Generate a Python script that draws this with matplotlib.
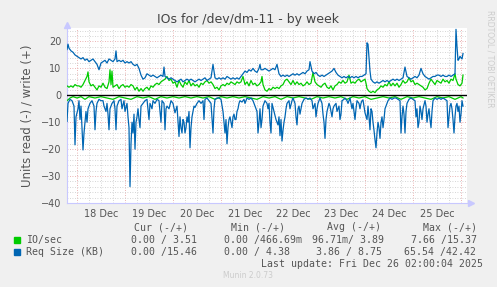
import matplotlib
matplotlib.use("Agg")
import matplotlib.pyplot as plt
import numpy as np

# time axis: 30-minute samples counted from Dec 17 19:00
day_labels = ["18 Dec", "19 Dec", "20 Dec", "21 Dec", "22 Dec", "23 Dec", "24 Dec", "25 Dec"]

# Req Size (KB) write (+)
req_w_t = [0,1,2,4,6,8,10,12,14,16,18,20,22,24,26,28,30,32,34,36,38,40,42,44,46,48,49,50,52,54,56,58,60,62,64,66,68,70,72,74,76,78,
           80,82,84,86,88,90,92,94,96,97,98,100,102,104,106,108,110,112,114,116,118,120,122,124,126,128,130,132,134,136,138,140,142,144,
           146,148,150,152,154,156,158,160,162,164,166,168,170,172,174,176,178,180,182,184,186,188,190,192,193,194,196,198,200,202,204,
           206,208,210,212,214,216,218,220,222,224,226,228,230,232,234,236,238,240,242,243,245,247,249,251,253,255,257,259,261,263,265,
           267,269,271,273,275,277,279,281,283,285,287,289,291,293,295,297,299,300,301,302,303,304,306,308,310,312,314,316,318,320,322,
           324,326,328,330,332,334,336,338,340,342,344,346,348,350,352,354,356,358,360,362,364,366,368,370,372,374,376,378,380,382,384,
           386,388,389,390,391,392,393,394,395,396]
req_w_v = [17,19,17.5,16.5,16,15,14.5,14,13.5,14,13,13.5,12.5,13,13.5,12.5,11.5,9.5,12,12.5,13,12,13.5,13,12.5,13.5,16.5,12.5,13,12.5,
           13,12,12.5,12,12.5,11.5,11,11.5,10,7.5,6,6.5,8,7.5,7,7.5,7,6.5,7,7.5,7,10.5,7,6.5,6,6.5,6,5.5,5,5.5,6,5,5.5,6,5.5,6,5.5,5,
           5.5,6,5.5,6,6.5,5.5,6,6.5,11.5,6.5,6,6.5,6,6.5,6,7,6.5,6,6.5,6,6.5,6,7,8,9,8.5,9.5,9,10,9,8.5,10,11.5,9.5,9.5,10,9.5,9,9.5,
           10,9.5,11.5,8,7,7.5,7,7.5,7,7.5,8,7.5,8,7.5,8,8.5,8,9,9.5,12.5,9,8,8.5,7.5,7,7.5,7,7.5,8,8.5,9,10,8.5,7.5,7,6.5,7,6.5,7,6.5,
           7,6.5,7,6.5,7,7,7.5,8,19.5,19,14,9,6,5,4.5,5,4.5,5,5.5,5,5.5,5,5.5,6,5.5,6,5.5,6,6.5,10.5,7,6.5,6,6.5,7,6.5,7.5,10,8,7,6.5,
           6,6.5,7,7,7.5,7.5,7,7.5,7,7,7.5,7,7.5,8,24.5,18,13,13.5,14.5,14,13.5,15.5]

# Req Size (KB) read (-)
req_r_t = [0,1,3,5,7,8,9,11,12,13,14,15,16,17,18,19,20,21,23,25,27,28,29,30,32,34,36,37,39,40,41,42,43,45,47,48,49,50,52,54,55,57,58,
           60,61,62,63,64,65,66,67,68,69,70,71,72,73,74,76,78,80,82,83,85,86,88,90,92,94,95,97,98,99,100,102,104,106,108,110,112,113,
           114,115,116,117,118,119,120,121,122,123,124,125,126,127,128,130,132,134,136,137,138,140,142,144,146,147,148,150,152,154,156,
           157,158,159,160,161,162,163,164,165,166,167,168,169,170,171,172,173,175,177,178,180,182,184,186,188,190,191,192,193,194,195,
           196,198,200,201,202,203,204,205,207,209,211,212,213,214,215,216,217,218,219,220,222,223,225,226,228,229,230,231,232,233,234,
           235,237,239,241,243,245,246,248,249,250,251,253,255,256,257,258,259,260,262,263,265,266,267,269,270,272,273,274,275,277,278,
           280,281,283,285,286,287,288,289,290,292,293,294,295,296,298,300,301,302,303,304,305,306,307,308,309,310,311,312,313,314,315,
           316,317,318,319,321,323,325,327,329,331,333,334,335,336,337,338,339,340,342,344,346,348,349,350,351,352,353,354,355,356,358,
           359,360,361,362,363,364,365,366,368,370,372,374,376,378,380,381,382,383,384,385,386,387,388,389,390,391,392,393,394,395,396]
req_r_v = [-9.7,-3,-1.5,-2,-4,-18.4,-8,-5,-2,-9,-4,-12,-20.3,-14,-10,-6,-10,-5,-3,-2,-4,-12.8,-6,-3,-1.5,-2,-2,-4,-6,-3,-7,-12.8,-5,
           -3,-2,-5,-12.8,-4,-2,-1.5,-5,-2,-6,-3,-8,-12,-33.9,-18,-10,-14,-7,-20,-10,-8,-5,-9,-12,-4,-3,-2,-1.5,-9,-3,-5,-2,-3,-1.5,-2,
           -10,-2,-3,-12.8,-5,-4,-5,-2,-3,-6.5,-4,-15.3,-8,-12,-14,-9,-10,-14,-12,-8,-10,-6,-19.5,-12,-8,-6,-4,-4.5,-3,-2,-3,-2,-9,-1.5,
           -1,-2,-3,-14,-5,-1.5,-1,-1,-1.5,-6,-10,-14,-9,-18,-12,-9,-8,-10,-12,-8,-7,-9,-9,-6,-5,-3,-2,-2.5,-1.5,-3,-1,-1.5,-1,-2,-4,-6,
           -14,-10,-5,-12,-9,-4,-2,-3,-5,-3,-10,-14,-3,-6,-9,-11,-8,-15,-9,-17,-13,-10,-8,-5,-3,-2,-5,-2,-1,-3,-8,-11,-5,-4,-7,-5,-3,
           -1.5,-1,-1.5,-1,-2,-5,-3,-8,-5,-3,-1,-3,-7,-10,-16,-9,-6,-3,-4,-8,-5,-4,-3,-6,-4,-9,-7,-2,-1.5,-1,-2,-3,-1,-5,-3,-6,-9,-5,
           -2,-3,-5,-3,-2,-1.7,-6.5,-9,-4,-8,-12.8,-5,-6,-10,-13,-16.5,-19.5,-14,-10,-12,-16,-10,-8,-12,-9,-5,-4,-2,-1,-1.5,-1,-1,-1.5,
           -2,-14,-8,-4,-7,-14,-6,-3,-1.5,-1,-1.5,-2,-8,-5,-12,-10,-4,-6,-9,-5,-2,-4,-10,-7,-5,-9,-12,-6,-2,-1,-1.5,-1,-1.5,-1,-1.5,-2,
           -12,-8,-4,-3,-5,-9,-14,-8,-4,-3,-6,-4,-10,-7,-2,-4]

# IO/sec write (+)
io_w_t = [0,2,4,6,8,10,12,14,16,18,20,21,22,24,26,28,30,32,34,36,38,40,42,43,44,45,46,48,50,52,54,56,58,60,62,64,66,68,70,72,74,76,
          78,80,82,84,86,88,90,92,94,96,98,100,102,104,106,108,110,112,114,116,118,120,122,124,126,128,130,132,134,136,138,140,142,144,
          146,148,150,152,154,156,158,160,162,164,166,168,170,172,174,176,178,180,182,184,186,188,190,192,194,195,196,198,200,202,204,
          206,208,210,212,214,216,218,220,222,224,226,228,230,232,234,236,238,240,242,244,246,248,250,252,254,256,258,260,262,264,266,
          268,270,272,274,276,278,280,282,284,286,288,290,292,294,296,298,299,300,302,304,306,308,310,312,314,316,318,320,322,324,326,
          328,330,332,334,336,338,340,342,344,346,348,350,352,354,356,358,360,362,364,366,368,370,372,374,376,378,380,382,384,386,388,
          389,390,391,393,395,396]
io_w_v = [3.5,3,3.5,3,4,3.5,3.5,3,4,5.5,7,8.7,5,3.5,4,3,2,3.5,3,4.5,3,2.5,5,9.5,4,9,3,3.5,4,2.5,3.5,4,3,3.5,3,4,3.5,2,3,1.5,2.5,1.5,
          2.5,3,2,3.5,3,4,4.5,4,5,5.5,6,7,5.5,6,4.5,5,3,5.5,4,3,5,4,5.5,3.5,4.5,3.5,4,3,4.5,4,5,5.5,4.5,5,4,2.5,3,2,3.5,4,3.5,4.5,4,5,
          4.5,4,5,4.5,5,7,4,5,3.5,5.5,4,4.5,3.5,4,5,7,4,2,1.5,2.5,2,3,2.5,3,2.5,3.5,4,5.5,6,5,4,5.5,4,5,4,4.5,3.5,4,5,4,4.5,8.5,5,4,
          3.5,3,4,4.5,3,2.5,3.5,2,3.5,4,5,4.5,5.5,4.5,5,7.5,4.5,5,4.5,5.5,6,5,5.5,6,4.5,2.5,1.5,1,1.5,1,2,2.5,3.5,3,4,3.5,5,3.5,4.5,
          3.5,4.5,3,4,5.5,4.5,5,6.5,5,5.5,4,4.5,4,3.5,3,2,2.5,4.5,6,5,4,5.5,5,4.5,6,5,5.5,4.5,6,5.5,8,6,5,4,3.5,4.5,7.5]

# IO/sec read (-)
io_r_t = [0,3,6,10,14,18,22,28,34,40,46,52,58,64,70,76,82,88,94,100,106,112,118,124,130,136,142,148,154,160,166,172,178,184,190,196,
          202,208,214,220,226,232,238,244,250,256,262,268,274,280,286,292,298,304,310,316,322,328,334,340,346,352,358,364,370,376,382,
          388,394,396]
io_r_v = [-2,-1,-0.5,-1,-0.5,-1.5,-0.5,-1,-0.5,-1,-1.5,-0.5,-1,-1.5,-0.5,-1,-0.5,-1.5,-0.5,-1,-0.5,-1,-0.5,-1,-0.5,-1,-0.5,-1.5,-0.5,
          -1,-0.5,-1,-0.5,-1,-1.5,-0.5,-1,-0.5,-1.5,-0.5,-1,-0.5,-1,-1.5,-0.5,-1,-0.5,-1,-0.5,-1.5,-0.5,-1,-0.5,-1.5,-1,-0.5,-1,-0.5,
          -1.5,-0.5,-1,-0.5,-1,-1.5,-0.5,-1,-0.5,-1.5,-0.5,-1]

legend_rows = [
    ("IO/sec", "#00CC00", ["0.00 / 3.51", "0.00 /466.69m", "96.71m/ 3.89", "7.66 /15.37"]),
    ("Req Size (KB)", "#0066B3", ["0.00 /15.46", "0.00 / 4.38", "3.86 / 8.75", "65.54 /42.42"]),
]
col_heads = ["Cur (-/+)", "Min (-/+)", "Avg (-/+)", "Max (-/+)"]

W, H = 497, 287
fig = plt.figure(figsize=(W / 100, H / 100), dpi=100, facecolor="#F0F0F0")
ax = fig.add_axes([67 / W, 84 / H, 400 / W, 175 / H])
ax.set_facecolor("white")

hours = lambda t: np.array(t) / 2.0

# grid
for h in np.arange(-1, 200, 6):
    if (h - 5) % 24 == 0:
        ax.axvline(h, color="#e49a9a", lw=0.6, ls=(0, (1, 2)), zorder=1)
    else:
        ax.axvline(h, color="#c8c8c8", lw=0.6, ls=(0, (1, 2)), zorder=1)
for y in np.arange(-38, 26, 2):
    if y == 0:
        continue
    if y % 10 == 0:
        ax.axhline(y, color="#e49a9a", lw=0.6, ls=(0, (1, 2)), zorder=1)
    else:
        ax.axhline(y, color="#c8c8c8", lw=0.6, ls=(0, (1, 2)), zorder=1)

ax.plot(hours(io_r_t), io_r_v, color="#00CC00", lw=0.9, zorder=3)
ax.plot(hours(io_w_t), io_w_v, color="#00CC00", lw=0.9, zorder=3)
ax.plot(hours(req_r_t), req_r_v, color="#0066B3", lw=0.9, zorder=4)
ax.plot(hours(req_w_t), req_w_v, color="#0066B3", lw=0.9, zorder=4)
ax.axhline(0, color="black", lw=1.0, zorder=5)

ax.set_xlim(0, 200)
ax.set_ylim(-40, 25)
ax.set_xticks([17 + 24 * k for k in range(len(day_labels))])
ax.set_xticklabels(day_labels)
ax.set_yticks([-40, -30, -20, -10, 0, 10, 20])
ax.tick_params(axis="both", length=0, labelsize=7, colors="#555555", pad=4)

for s in ["top", "right"]:
    ax.spines[s].set_visible(False)
for s in ["left", "bottom"]:
    ax.spines[s].set_color("#c8c8ff")
    ax.spines[s].set_linewidth(0.8)
ax.plot([0], [1.02], marker="^", color="#c8c8ff", ms=4, transform=ax.transAxes, clip_on=False)
ax.plot([1.01], [0], marker=">", color="#c8c8ff", ms=4, transform=ax.transAxes, clip_on=False)

ax.set_ylabel("Units read (-) / write (+)", fontsize=8.5, color="#555555", labelpad=5)
fig.text(248 / W, 1 - 20 / H, "IOs for /dev/dm-11 - by week", ha="center", va="center",
         fontsize=9, color="#444444")
fig.text(490 / W, 1 - 10 / H, "RRDTOOL / TOBI OETIKER", rotation=270, ha="center", va="top",
         fontsize=5.5, color="#cccccc")

mono = "DejaVu Sans Mono"
fs = 7.1
for x, txt in zip([134, 231, 327, 423], col_heads):
    fig.text(x / W, 1 - 227 / H, txt, family=mono, fontsize=fs, color="#555555", va="center")
value_x = [[131, 224, 312, 411], [131, 224, 316, 404]]
for i, (name, col, vals) in enumerate(legend_rows):
    yy = 240 + 12 * i
    fig.patches.append(plt.Rectangle((14 / W, 1 - (yy + 3) / H), 6 / W, 6 / H, color=col,
                                     transform=fig.transFigure, figure=fig))
    fig.text(26 / W, 1 - yy / H, name, family=mono, fontsize=fs, color="#555555", va="center")
    for x, v in zip(value_x[i], vals):
        fig.text(x / W, 1 - yy / H, v, family=mono, fontsize=fs, color="#555555", va="center")
fig.text(483 / W, 1 - 264 / H, "Last update: Fri Dec 26 02:00:04 2025", family=mono, fontsize=fs,
         color="#555555", va="center", ha="right")
fig.text(248 / W, 1 - 276 / H, "Munin 2.0.73", fontsize=5.5, color="#cccccc", ha="center", va="center")

fig.savefig("out.png", dpi=100, facecolor=fig.get_facecolor())
